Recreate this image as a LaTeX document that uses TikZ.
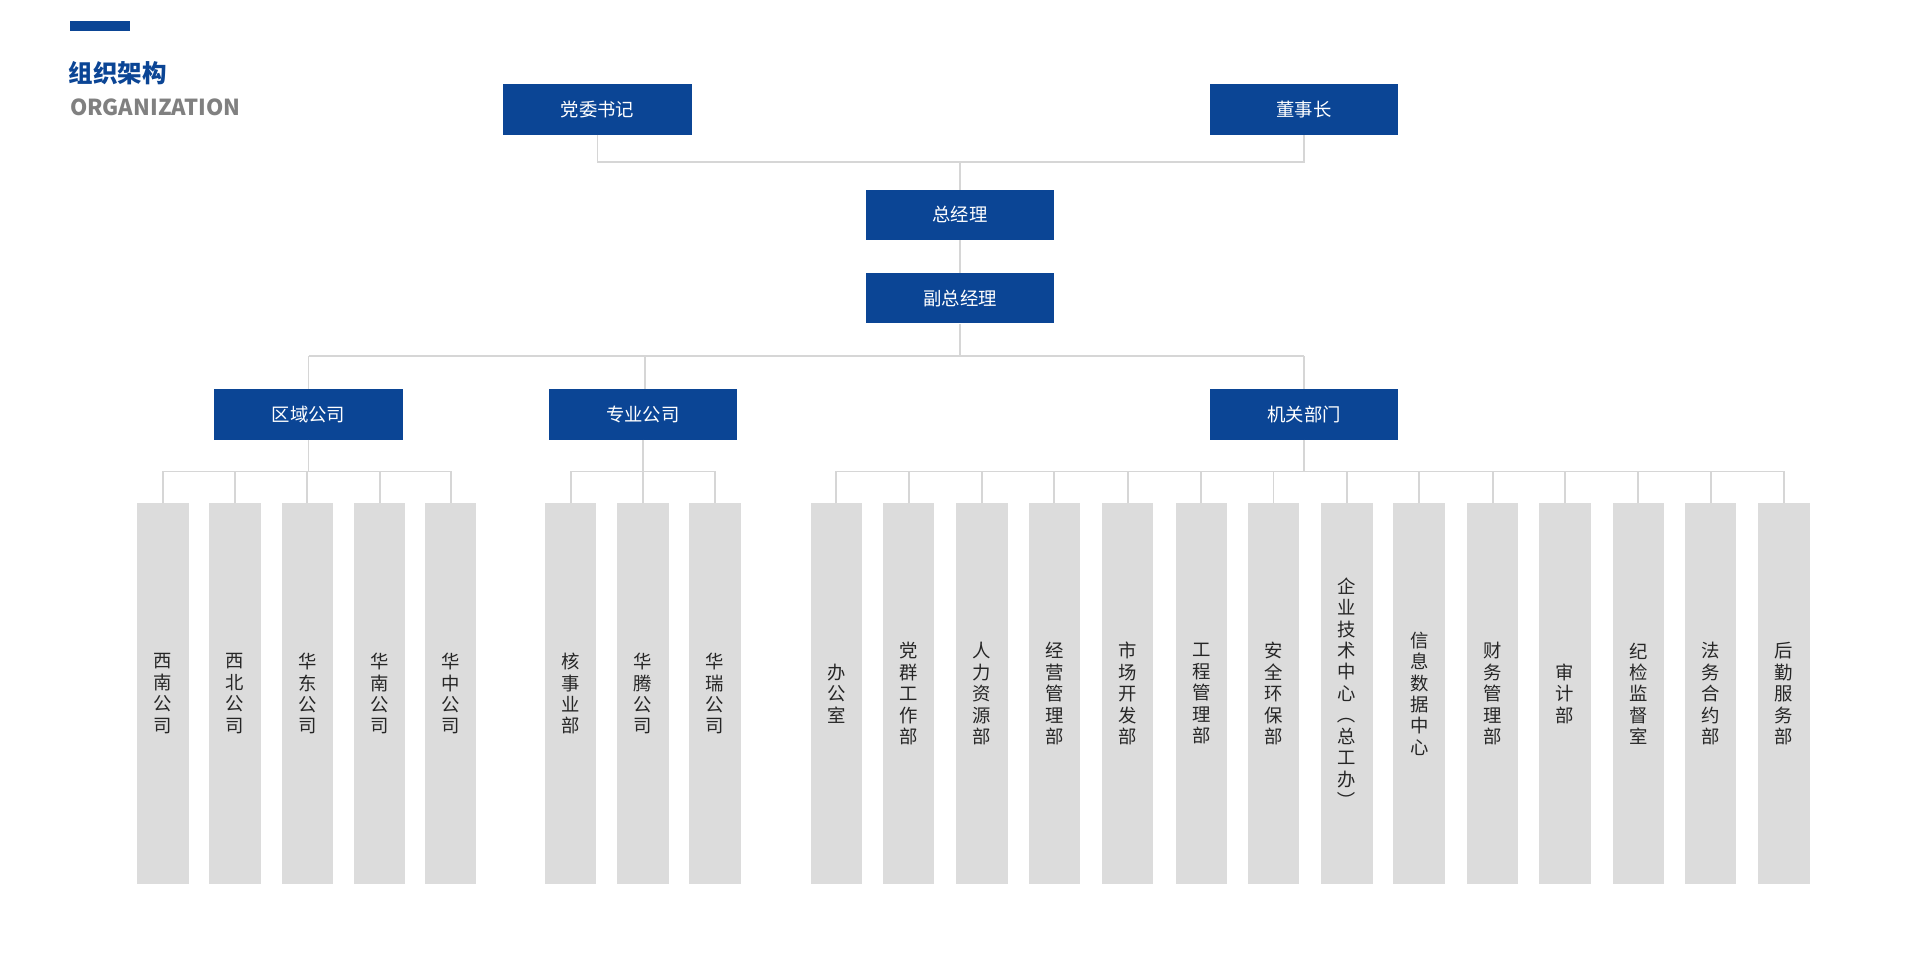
\documentclass[tikz,border=0pt]{standalone}
\usepackage{fontspec}
\setmainfont{Noto Sans CJK SC}
\newfontfamily\titlefont{Noto Sans CJK SC}[FakeBold=0]
\definecolor{navy}{HTML}{0B4595}
\definecolor{boxgray}{HTML}{DCDCDC}
\definecolor{linegray}{HTML}{D6D6D6}
\begin{document}
\begin{tikzpicture}[x=1pt,y=-1pt,
  bluebox/.style={fill=navy,text=white,minimum width=154pt,minimum height=41pt,inner sep=0pt,font=\fontsize{15}{18}\selectfont},
  graybox/.style={fill=boxgray,text=black!85,minimum width=42pt,minimum height=311pt,inner sep=0pt,align=center,font=\fontsize{15}{17.5}\selectfont},
  conn/.style={draw=linegray,line width=1.5pt}]
\useasboundingbox (0,0) rectangle (1568,784);
\fill[navy] (57,17) rectangle (106,25);
\node[anchor=west,text=navy,inner sep=0pt,font=\fontsize{20}{24}\selectfont\bfseries] (t1) at (56,60) {组织架构};
\node[anchor=west,text=gray,inner sep=0pt,font=\fontsize{18}{22}\selectfont\bfseries] (t2) at (57,88) {ORGANIZATION};

\node[bluebox] (dw) at (488,89.5) {党委书记};
\node[bluebox] (dsz) at (1065,89.5) {董事长};
\node[bluebox] (zjl) at (784,175.5) {总经理};
\node[bluebox] (fzjl) at (784,243.5) {副总经理};
\node[bluebox] (qy) at (252,338.5) {区域公司};
\node[bluebox] (zy) at (525,338.5) {专业公司};
\node[bluebox] (jg) at (1065,338.5) {机关部门};

\coordinate (j1) at (784,132);
\draw[conn] (dw.south) |- (j1) -| (dsz.south);
\draw[conn] (j1) -- (zjl.north);
\draw[conn] (zjl.south) -- (fzjl.north);
\coordinate (j2) at (784,291);
\draw[conn] (fzjl.south) -- (j2);
\draw[conn] (252,291) -- (1065,291);
\draw[conn] (252,291) -- (qy.north);
\draw[conn] (527,291) -- (527,318);
\draw[conn] (1065,291) -- (jg.north);

\newcommand{\vt}[1]{#1}
\def\gy{566.5}
% regional
\foreach \n/\x/\t in {a1/133/西\\南\\公\\司, a2/192/西\\北\\公\\司, a3/251/华\\东\\公\\司, a4/310/华\\南\\公\\司, a5/368/华\\中\\公\\司}{
  \node[graybox] (\n) at (\x,\gy) {\t};
}
\draw[conn] (qy.south) -- (252,385);
\draw[conn] (a1.north) |- (a5.north |- 0,385) -- (a5.north);
\foreach \n in {a2,a3,a4}{\draw[conn] (\n.north) -- (\n.north |- 0,385);}
% professional
\foreach \n/\x/\t in {b1/466/核\\事\\业\\部, b2/525/华\\腾\\公\\司, b3/584/华\\瑞\\公\\司}{
  \node[graybox] (\n) at (\x,\gy) {\t};
}
\draw[conn] (zy.south) -- (525,385);
\draw[conn] (b1.north) |- (b3.north |- 0,385) -- (b3.north);
\draw[conn] (b2.north) -- (b2.north |- 0,385);
% departments
\foreach \n/\x/\t in {c1/683/办\\公\\室, c2/742/党\\群\\工\\作\\部, c3/802/人\\力\\资\\源\\部, c4/861/经\\营\\管\\理\\部, c5/921/市\\场\\开\\发\\部, c6/981/工\\程\\管\\理\\部, c7/1040/安\\全\\环\\保\\部, c8/1100/企\\业\\技\\术\\中\\心\\\rotatebox[origin=c]{-90}{（}\\总\\工\\办\\\rotatebox[origin=c]{-90}{）}, c9/1159/信\\息\\数\\据\\中\\心, c10/1219/财\\务\\管\\理\\部, c11/1278/审\\计\\部, c12/1338/纪\\检\\监\\督\\室, c13/1397/法\\务\\合\\约\\部, c14/1457/后\\勤\\服\\务\\部}{
  \node[graybox] (\n) at (\x,\gy) {\t};
}
\draw[conn] (jg.south) -- (1065,385);
\draw[conn] (c1.north) |- (c14.north |- 0,385) -- (c14.north);
\foreach \n in {c2,c3,c4,c5,c6,c7,c8,c9,c10,c11,c12,c13}{\draw[conn] (\n.north) -- (\n.north |- 0,385);}
\end{tikzpicture}
\end{document}
